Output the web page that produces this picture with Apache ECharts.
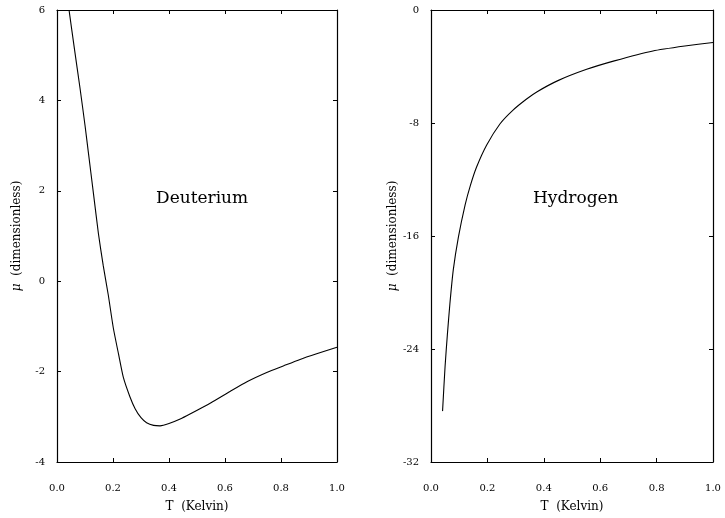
<!DOCTYPE html>
<html>
<head>
<meta charset="utf-8">
<script src="https://cdn.jsdelivr.net/npm/echarts@6/dist/echarts.min.js"></script>
<style>
  html, body { margin: 0; padding: 0; background: #fff; }
</style>
</head>
<body>
<div id="chart" style="width: 725px; height: 518px"></div>
<script>
// Deuterium curve: [T (Kelvin), mu]
var deuterium = [
  [0.043, 6.0], [0.062, 5.15], [0.082, 4.28], [0.1, 3.45], [0.112, 2.85],
  [0.13, 1.95], [0.148, 1.05], [0.165, 0.35], [0.183, -0.3], [0.201, -1.03],
  [0.22, -1.62], [0.237, -2.13], [0.26, -2.55], [0.279, -2.82], [0.3, -3.02],
  [0.32, -3.13], [0.345, -3.19], [0.368, -3.2], [0.4, -3.15], [0.44, -3.05],
  [0.475, -2.94], [0.55, -2.69], [0.618, -2.44], [0.68, -2.22], [0.749, -2.02],
  [0.81, -1.87], [0.868, -1.73], [0.93, -1.6], [1.0, -1.46]
];
// Hydrogen curve: [T (Kelvin), mu]
var hydrogen = [
  [0.041, -28.4], [0.05, -25.2], [0.058, -23.0], [0.067, -20.8], [0.079, -18.4],
  [0.097, -16.1], [0.121, -13.8], [0.14, -12.4], [0.162, -11.1], [0.197, -9.57],
  [0.245, -8.05], [0.29, -7.1], [0.339, -6.3], [0.375, -5.8], [0.45, -5.0],
  [0.552, -4.2], [0.65, -3.6], [0.787, -2.9], [0.9, -2.55], [1.0, -2.3]
];
var xTicks = { min: 0, max: 1, interval: 0.2 };
var yTicksD = { min: -4, max: 6, interval: 2 };
var yTicksH = { min: -32, max: 0, interval: 8 };

var font = "DejaVu Serif";
var chart = echarts.init(document.getElementById("chart"));

// 四边都画框线和向内刻度
var lineCfg = { onZero: false, lineStyle: { color: "#000", width: 1.2 } };
var tickCfg = { inside: true, length: 4, lineStyle: { color: "#000" } };

function xAxes(gridIndex) {
  return [
    {
      type: "value", gridIndex: gridIndex, position: "bottom",
      min: xTicks.min, max: xTicks.max, interval: xTicks.interval,
      name: "T  (Kelvin)", nameLocation: "middle", nameGap: 39,
      nameTextStyle: { fontFamily: font, fontSize: 12, color: "#000" },
      axisLine: lineCfg,
      axisTick: tickCfg,
      axisLabel: {
        margin: 21, fontFamily: font, fontSize: 10, color: "#000",
        formatter: function (v) { return v.toFixed(1); }
      },
      splitLine: { show: false }
    },
    {
      type: "value", gridIndex: gridIndex, position: "top",
      min: xTicks.min, max: xTicks.max, interval: xTicks.interval,
      axisLine: lineCfg,
      axisTick: tickCfg,
      axisLabel: { show: false },
      splitLine: { show: false }
    }
  ];
}

function yAxes(gridIndex, t, gap) {
  return [
    {
      type: "value", gridIndex: gridIndex, position: "left",
      min: t.min, max: t.max, interval: t.interval,
      name: "{mu|\u03bc}  (dimensionless)", nameLocation: "middle", nameGap: gap,
      nameTextStyle: {
        fontFamily: font, fontSize: 12, color: "#000",
        rich: { mu: { fontFamily: font, fontSize: 12, fontStyle: "italic", color: "#000" } }
      },
      axisLine: lineCfg,
      axisTick: tickCfg,
      axisLabel: { margin: 12, fontFamily: font, fontSize: 10, color: "#000" },
      splitLine: { show: false }
    },
    {
      type: "value", gridIndex: gridIndex, position: "right",
      min: t.min, max: t.max, interval: t.interval,
      axisLine: lineCfg,
      axisTick: tickCfg,
      axisLabel: { show: false },
      splitLine: { show: false }
    }
  ];
}

var option = {
  backgroundColor: "#fff",
  animation: false,
  title: [
    {
      text: "Deuterium", left: 151, top: 185,
      textStyle: { fontFamily: font, fontSize: 17, fontWeight: "normal", color: "#000" }
    },
    {
      text: "Hydrogen", left: 528, top: 185,
      textStyle: { fontFamily: font, fontSize: 17, fontWeight: "normal", color: "#000" }
    }
  ],
  grid: [
    { left: 57, top: 10, width: 280, height: 456 },
    { left: 431, top: 10, width: 282, height: 457 }
  ],
  xAxis: xAxes(0).concat(xAxes(1)),
  yAxis: yAxes(0, yTicksD, 34).concat(yAxes(1, yTicksH, 32)),
  series: [
    {
      name: "Deuterium", type: "line", xAxisIndex: 0, yAxisIndex: 0,
      data: deuterium, showSymbol: false, smooth: 0.2,
      lineStyle: { color: "#000", width: 1.1 }
    },
    {
      name: "Hydrogen", type: "line", xAxisIndex: 2, yAxisIndex: 2,
      data: hydrogen, showSymbol: false, smooth: 0.2,
      lineStyle: { color: "#000", width: 1.1 }
    }
  ]
};

chart.setOption(option);
</script>
</body>
</html>
